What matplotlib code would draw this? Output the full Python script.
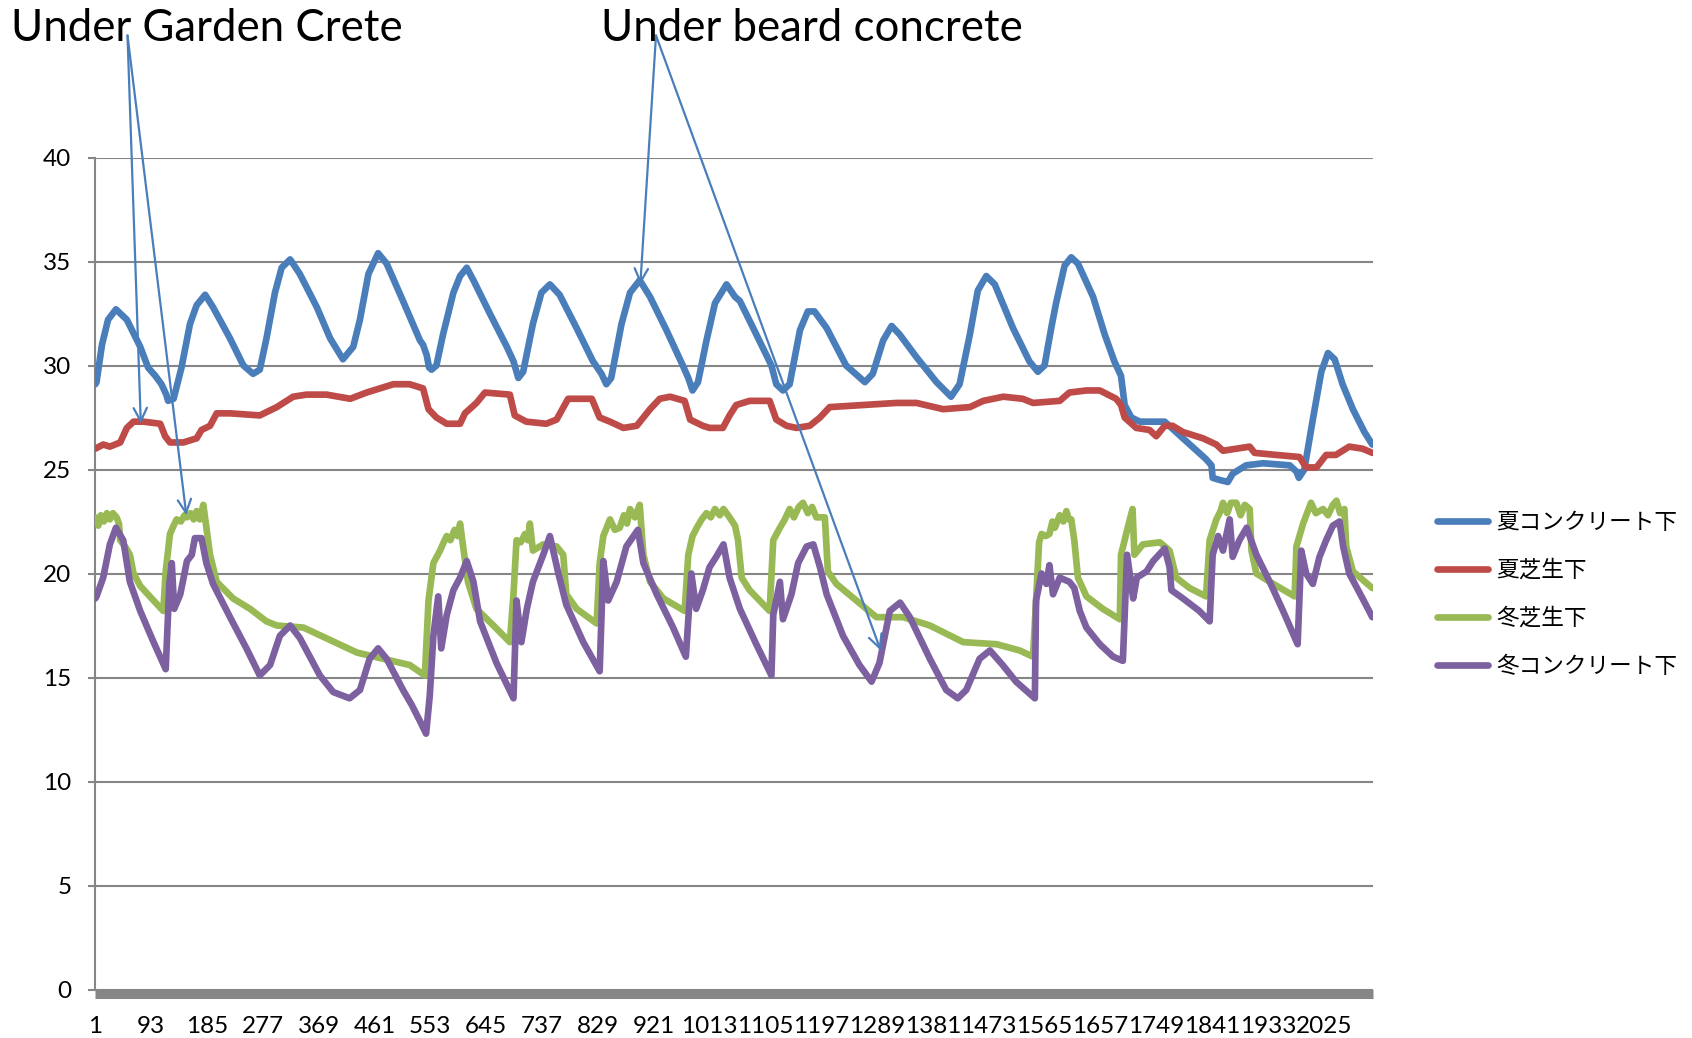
import matplotlib
matplotlib.use("Agg")
import matplotlib.pyplot as plt

plt.rcParams['font.family'] = ['Lato', 'Noto Sans CJK JP', 'DejaVu Sans']

# ---------------- data ----------------
n_points = 2105
tick_labels = [1, 93, 185, 277, 369, 461, 553, 645, 737, 829, 921, 1013, 1105,
               1197, 1289, 1381, 1473, 1565, 1657, 1749, 1841, 1933, 2025]
series_names = ['夏コンクリート下', '夏芝生下', '冬芝生下', '冬コンクリート下']

summer_concrete_x = [1, 3, 12, 22, 35, 53, 75, 88, 100, 110, 118, 121, 130, 143, 157, 168, 182, 195, 223, 245,
                     261, 272, 283, 297, 308, 322, 338, 366, 388, 409, 426, 437, 451, 467, 481, 508, 536, 541,
                     547, 551, 555, 563, 574, 591, 602, 613, 624, 651, 679, 690, 698, 706, 722, 736, 750, 766,
                     794, 821, 835, 843, 851, 868, 882, 898, 915, 942, 969, 978, 985, 994, 1008, 1022, 1041,
                     1055, 1063, 1090, 1115, 1123, 1134, 1145, 1162, 1175, 1186, 1206, 1238, 1269, 1282, 1299,
                     1313, 1326, 1354, 1387, 1411, 1425, 1442, 1455, 1469, 1483, 1513, 1540, 1554, 1565, 1576,
                     1584, 1598, 1609, 1620, 1645, 1664, 1680, 1691, 1697, 1708, 1722, 1749, 1763, 1793, 1831,
                     1840, 1842, 1853, 1867, 1875, 1897, 1925, 1969, 1980, 1984, 1993, 2007, 2021, 2032, 2043,
                     2056, 2073, 2092, 2105]
summer_concrete_y = [29.1, 29.2, 31.0, 32.2, 32.7, 32.2, 30.9, 29.9, 29.5, 29.1, 28.6, 28.3, 28.4, 29.9, 32.0, 32.9,
                     33.4, 32.8, 31.3, 30.0, 29.6, 29.8, 31.3, 33.5, 34.7, 35.1, 34.4, 32.8, 31.3, 30.3, 30.9,
                     32.2, 34.4, 35.4, 34.9, 33.1, 31.2, 31.0, 30.5, 29.9, 29.8, 30.0, 31.5, 33.5, 34.3, 34.7,
                     34.1, 32.5, 30.9, 30.2, 29.4, 29.7, 32.0, 33.5, 33.9, 33.4, 31.8, 30.2, 29.6, 29.1, 29.4,
                     32.0, 33.5, 34.1, 33.3, 31.7, 30.0, 29.4, 28.8, 29.2, 31.2, 33.0, 33.9, 33.3, 33.1, 31.5,
                     30.0, 29.1, 28.8, 29.1, 31.7, 32.6, 32.6, 31.8, 30.0, 29.2, 29.6, 31.2, 31.9, 31.5, 30.4,
                     29.2, 28.5, 29.1, 31.5, 33.6, 34.3, 33.9, 31.8, 30.2, 29.7, 30.0, 31.8, 33.0, 34.8, 35.2,
                     34.9, 33.3, 31.5, 30.2, 29.5, 28.1, 27.5, 27.3, 27.3, 27.3, 26.5, 25.5, 25.2, 24.6, 24.5,
                     24.4, 24.8, 25.2, 25.3, 25.2, 24.9, 24.6, 25.0, 27.4, 29.7, 30.6, 30.3, 29.1, 27.9, 26.8,
                     26.2]

summer_turf_x = [1, 14, 25, 42, 53, 64, 80, 108, 116, 124, 146, 168, 176, 190, 201, 223, 272, 300, 327, 349, 382,
                 421, 448, 470, 492, 519, 541, 550, 563, 580, 602, 610, 629, 643, 684, 692, 711, 744, 761, 780,
                 819, 832, 849, 871, 893, 915, 931, 948, 972, 981, 1002, 1013, 1035, 1046, 1057, 1079, 1112, 1123,
                 1140, 1156, 1178, 1195, 1211, 1266, 1321, 1354, 1398, 1442, 1464, 1497, 1529, 1546, 1590, 1606,
                 1634, 1656, 1683, 1691, 1697, 1716, 1738, 1749, 1763, 1776, 1793, 1826, 1848, 1859, 1881, 1903,
                 1911, 1947, 1985, 1996, 2013, 2029, 2045, 2067, 2089, 2105]
summer_turf_y = [26.0, 26.2, 26.1, 26.3, 27.0, 27.3, 27.3, 27.2, 26.6, 26.3, 26.3, 26.5, 26.9, 27.1, 27.7, 27.7,
                 27.6, 28.0, 28.5, 28.6, 28.6, 28.4, 28.7, 28.9, 29.1, 29.1, 28.9, 27.9, 27.5, 27.2, 27.2, 27.7,
                 28.2, 28.7, 28.6, 27.6, 27.3, 27.2, 27.4, 28.4, 28.4, 27.5, 27.3, 27.0, 27.1, 27.9, 28.4, 28.5,
                 28.3, 27.4, 27.1, 27.0, 27.0, 27.6, 28.1, 28.3, 28.3, 27.4, 27.1, 27.0, 27.1, 27.5, 28.0, 28.1,
                 28.2, 28.2, 27.9, 28.0, 28.3, 28.5, 28.4, 28.2, 28.3, 28.7, 28.8, 28.8, 28.4, 28.1, 27.5, 27.0,
                 26.9, 26.6, 27.1, 27.1, 26.8, 26.5, 26.2, 25.9, 26.0, 26.1, 25.8, 25.7, 25.6, 25.1, 25.1, 25.7,
                 25.7, 26.1, 26.0, 25.8]

winter_turf_x = [1, 6, 10, 15, 20, 25, 30, 36, 40, 42, 50, 58, 64, 75, 97, 113, 117, 124, 130, 135, 142, 148, 152,
                 158, 163, 168, 173, 179, 184, 190, 201, 228, 256, 283, 300, 344, 388, 432, 475, 519, 544, 550,
                 558, 569, 575, 580, 586, 593, 598, 602, 607, 615, 629, 657, 684, 690, 695, 702, 709, 714, 717,
                 722, 739, 761, 772, 777, 794, 827, 832, 838, 849, 857, 865, 872, 877, 882, 890, 898, 904, 915,
                 937, 972, 978, 985, 992, 1000, 1008, 1015, 1022, 1030, 1036, 1046, 1055, 1060, 1066, 1079, 1112,
                 1118, 1129, 1137, 1145, 1152, 1160, 1167, 1175, 1182, 1189, 1203, 1208, 1222, 1255, 1288, 1332,
                 1376, 1431, 1486, 1524, 1546, 1551, 1556, 1560, 1567, 1573, 1578, 1582, 1590, 1596, 1601, 1605,
                 1609, 1614, 1620, 1634, 1661, 1689, 1691, 1702, 1710, 1713, 1727, 1755, 1771, 1782, 1804, 1831,
                 1837, 1848, 1855, 1859, 1866, 1872, 1881, 1888, 1895, 1903, 1906, 1914, 1936, 1977, 1980, 1991,
                 2004, 2012, 2024, 2032, 2040, 2046, 2052, 2059, 2062, 2073, 2089, 2105]
winter_turf_y = [22.7, 22.3, 22.8, 22.5, 22.9, 22.6, 22.9, 22.7, 22.4, 21.6, 21.3, 20.9, 20.0, 19.4, 18.7, 18.2,
                 20.1, 21.9, 22.3, 22.6, 22.5, 22.8, 22.7, 22.9, 22.6, 23.0, 22.6, 23.3, 22.2, 20.9, 19.6, 18.8,
                 18.3, 17.7, 17.5, 17.4, 16.8, 16.2, 15.9, 15.6, 15.1, 18.7, 20.5, 21.1, 21.5, 21.8, 21.6, 22.1,
                 21.8, 22.4, 21.3, 19.6, 18.3, 17.5, 16.7, 19.0, 21.6, 21.5, 21.9, 21.6, 22.4, 21.1, 21.4, 21.3,
                 20.9, 19.0, 18.3, 17.6, 20.5, 21.8, 22.6, 22.1, 22.2, 22.8, 22.4, 23.1, 22.7, 23.3, 20.9, 19.6,
                 18.8, 18.2, 20.9, 21.8, 22.2, 22.6, 22.9, 22.7, 23.1, 22.8, 23.1, 22.7, 22.3, 21.6, 19.8, 19.2,
                 18.2, 21.6, 22.2, 22.6, 23.1, 22.7, 23.2, 23.4, 22.9, 23.2, 22.7, 22.7, 20.1, 19.5, 18.7, 17.9,
                 17.9, 17.5, 16.7, 16.6, 16.3, 16.0, 18.7, 21.5, 21.9, 21.8, 21.9, 22.5, 22.2, 22.8, 22.5, 23.0,
                 22.6, 22.6, 21.6, 19.8, 18.9, 18.3, 17.8, 20.9, 22.2, 23.1, 20.9, 21.4, 21.5, 21.1, 19.8, 19.3,
                 18.9, 21.6, 22.6, 23.0, 23.4, 22.9, 23.4, 23.4, 22.8, 23.3, 23.1, 21.1, 20.0, 19.6, 18.9, 21.3,
                 22.4, 23.4, 22.9, 23.1, 22.8, 23.3, 23.5, 22.9, 23.1, 21.3, 20.1, 19.7, 19.3]

winter_concrete_x = [1, 3, 14, 25, 35, 47, 58, 75, 97, 117, 123, 127, 131, 141, 152, 160, 165, 176, 184, 195, 223,
                     250, 272, 289, 305, 322, 338, 371, 393, 420, 437, 453, 467, 481, 508, 522, 536, 546, 552, 558,
                     566, 571, 580, 591, 602, 613, 624, 635, 662, 690, 695, 703, 712, 722, 739, 750, 764, 777, 805,
                     832, 838, 846, 860, 876, 895, 904, 926, 953, 974, 983, 991, 1002, 1013, 1024, 1036, 1046, 1063,
                     1090, 1115, 1118, 1129, 1134, 1148, 1159, 1173, 1184, 1195, 1206, 1233, 1260, 1280, 1293, 1310,
                     1327, 1343, 1376, 1403, 1422, 1436, 1458, 1475, 1496, 1518, 1549, 1551, 1560, 1568, 1573, 1579,
                     1590, 1606, 1614, 1623, 1634, 1656, 1678, 1694, 1701, 1711, 1717, 1733, 1744, 1763, 1771, 1774,
                     1793, 1820, 1837, 1842, 1851, 1859, 1870, 1875, 1886, 1898, 1914, 1936, 1958, 1982, 1988, 1996,
                     2007, 2018, 2029, 2040, 2051, 2057, 2067, 2089, 2105]
winter_concrete_y = [18.8, 18.9, 19.8, 21.4, 22.2, 21.6, 19.6, 18.2, 16.7, 15.4, 19.5, 20.5, 18.3, 19.0, 20.6, 20.9,
                     21.7, 21.7, 20.5, 19.5, 17.9, 16.4, 15.1, 15.6, 17.0, 17.5, 16.9, 15.1, 14.3, 14.0, 14.4, 15.9,
                     16.4, 15.9, 14.4, 13.7, 12.9, 12.3, 14.1, 17.0, 18.9, 16.4, 18.0, 19.2, 19.8, 20.6, 19.6, 17.7,
                     15.7, 14.0, 18.7, 16.7, 18.3, 19.6, 20.9, 21.8, 20.0, 18.5, 16.7, 15.3, 20.6, 18.7, 19.6, 21.3,
                     22.1, 20.5, 19.0, 17.4, 16.0, 20.0, 18.3, 19.2, 20.3, 20.8, 21.4, 19.8, 18.3, 16.6, 15.1, 18.0,
                     19.6, 17.8, 19.0, 20.5, 21.3, 21.4, 20.3, 19.0, 17.0, 15.6, 14.8, 15.7, 18.2, 18.6, 17.9, 15.9,
                     14.4, 14.0, 14.4, 15.9, 16.3, 15.6, 14.8, 14.0, 18.7, 20.0, 19.5, 20.4, 19.0, 19.8, 19.6, 19.3,
                     18.2, 17.4, 16.6, 16.0, 15.8, 20.9, 18.8, 19.8, 20.1, 20.6, 21.2, 20.3, 19.2, 18.8, 18.2, 17.7,
                     20.9, 21.8, 21.1, 22.6, 20.8, 21.6, 22.2, 20.9, 19.6, 18.2, 16.6, 21.1, 20.0, 19.5, 20.8, 21.6,
                     22.3, 22.5, 21.3, 20.0, 18.8, 17.9]

# ---------------- figure ----------------
W, H = 1692, 1038
fig = plt.figure(figsize=(W / 100, H / 100), dpi=100)
fig.patch.set_facecolor('white')
left_px, right_px, top_px, bottom_px = 95, 1372.6, 157.5, 989.5
ax = fig.add_axes([left_px / W, (H - bottom_px) / H, (right_px - left_px) / W, (bottom_px - top_px) / H])

colors = ['#4A7EBB', '#BE4B48', '#98B954', '#7D60A0']
xs = [summer_concrete_x, summer_turf_x, winter_turf_x, winter_concrete_x]
ys = [summer_concrete_y, summer_turf_y, winter_turf_y, winter_concrete_y]
handles = []
for x, y, c, name in zip(xs, ys, colors, series_names):
    h, = ax.plot(x, y, color=c, lw=4.8, solid_joinstyle='round', solid_capstyle='round', label=name, zorder=3)
    handles.append(h)

ax.set_xlim(0.5, n_points + 0.5)
ax.set_ylim(0, 40)
ax.set_yticks(range(0, 41, 5))
ax.set_xticks(tick_labels)
ax.set_xticklabels([str(t) for t in tick_labels])
ax.grid(axis='y', color='#868686', lw=1.5)
ax.set_axisbelow(True)
for s in ['top', 'right']:
    ax.spines[s].set_visible(False)
ax.spines['left'].set_color('#868686')
ax.spines['left'].set_linewidth(1.5)
ax.spines['bottom'].set_color('#868686')
ax.spines['bottom'].set_linewidth(6.5)
ax.spines['bottom'].set_position(('outward', 3.2))
ax.spines['bottom'].set_capstyle('butt')
ax.tick_params(axis='y', length=5, width=1.5, color='#868686', pad=12, labelsize=17.5, labelcolor='black')
ax.tick_params(axis='x', length=0, pad=16, labelsize=17.5, labelcolor='black')

leg = fig.legend(handles=handles, loc='upper left', bbox_to_anchor=(1437 / W, (H - 511) / H),
                 frameon=False, prop={'family': ['Noto Sans CJK JP'], 'size': 16.3},
                 handlelength=2.25, handletextpad=0.35, labelspacing=1.1, borderpad=0, borderaxespad=0)
for line in leg.get_lines():
    line.set_linewidth(4.8)
    line.set_solid_capstyle('round')

fig.text(10.8 / W, (H - 41) / H, 'Under Garden Crete', fontsize=31.5, va='baseline', ha='left')
fig.text(601 / W, (H - 41) / H, 'Under beard concrete', fontsize=31.5, va='baseline', ha='left')

arrow_color = '#4A7EBB'
arrows = [((76, 27.2), (127.5, H - 35.5)),
          ((151, 22.8), (127.5, H - 35.5)),
          ((899, 33.9), (656, H - 35.5)),
          ((1295, 16.3), (656, H - 35.5))]
for tip, start in arrows:
    ax.annotate('', xy=tip, xycoords='data', xytext=start, textcoords='figure pixels',
                arrowprops=dict(arrowstyle='->', color=arrow_color, lw=1.6, shrinkA=0, shrinkB=0,
                                mutation_scale=24), annotation_clip=False, zorder=5)

fig.savefig('out.png', dpi=100, facecolor='white')
